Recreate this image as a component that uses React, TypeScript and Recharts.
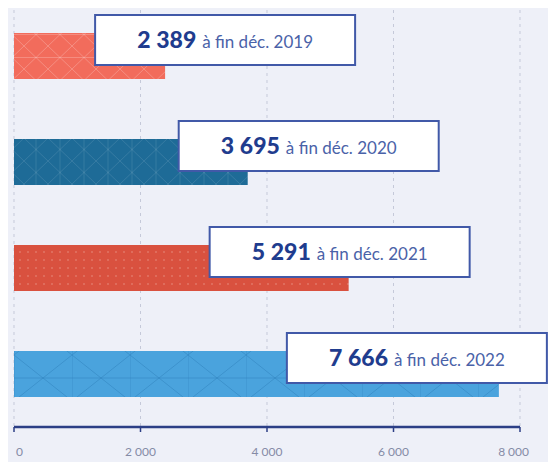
import React from "react";
import {
  BarChart,
  Bar,
  Cell,
  XAxis,
  YAxis,
  CartesianGrid,
  LabelList,
} from "recharts";

// values
const years = ["2019", "2020", "2021", "2022"];
const counts = [2389, 3695, 5291, 7666];
const xTicks = [0, 2000, 4000, 6000, 8000];
const labelSuffix = "à fin déc.";

const COLORS = ["#f26c5c", "#1e6b97", "#d9513f", "#4aa3dd"];
const PATTERNS = ["pat2019", "pat2020", "pat2021", "pat2022"];
// how far the label box starts before the bar end (px)
const BOX_SHIFT = [-70, -69, -139, -212];

const data = years.map((y, i) => ({ year: y, count: counts[i] }));

const fmt = (n: number) => String(n).replace(/\B(?=(\d{3})+(?!\d))/g, "\u202f");

function Patterns() {
  return (
    <svg width={0} height={0} style={{ position: "absolute" }}>
      <defs>
        <pattern id="pat2019" width={24} height={23} patternUnits="userSpaceOnUse">
          <rect width={24} height={23} fill={COLORS[0]} />
          <path d="M0 0 L24 23 M24 0 L0 23 M0 11.5 H24" stroke="#ffffff" strokeOpacity={0.22} strokeWidth={1} />
        </pattern>
        <pattern id="pat2020" width={24} height={23} patternUnits="userSpaceOnUse">
          <rect width={24} height={23} fill={COLORS[1]} />
          <path d="M0 0 L24 23 M24 0 L0 23 M12 0 V23" stroke="#ffffff" strokeOpacity={0.1} strokeWidth={1} />
        </pattern>
        <pattern id="pat2021" width={8} height={8} patternUnits="userSpaceOnUse">
          <rect width={8} height={8} fill={COLORS[2]} />
          <circle cx={4} cy={4} r={1} fill="#ffffff" fillOpacity={0.2} />
        </pattern>
        <pattern id="pat2022" width={58} height={46} x={14} y={355} patternUnits="userSpaceOnUse">
          <rect width={58} height={46} fill={COLORS[3]} />
          <path d="M0 0 L58 46 M58 0 L0 46 M0 0 V46 M0 23 H58" stroke="#2a7cb8" strokeOpacity={0.45} strokeWidth={1} />
        </pattern>
      </defs>
    </svg>
  );
}

function ValueBox(props: any) {
  const { x, y, width, value, index } = props;
  const bw = 260;
  const bh = 50;
  const bx = x + width + BOX_SHIFT[index];
  const by = y - 18;
  return (
    <g>
      <rect x={bx} y={by} width={bw} height={bh} fill="#ffffff" stroke="#4159a8" strokeWidth={2} />
      <text
        x={bx + bw / 2}
        y={by + 33}
        textAnchor="middle"
        fontFamily="Lato, 'Open Sans', sans-serif"
        fill="#1f3c8e"
      >
        <tspan fontSize={23} fontWeight={900}>{fmt(value)}</tspan>
        <tspan fontSize={17} fill="#4a62a8" dx={6}>
          {labelSuffix} {years[index]}
        </tspan>
      </text>
    </g>
  );
}

function XTick(props: any) {
  const { x, y, payload, index } = props;
  let anchor: "start" | "middle" | "end" = "middle";
  let dx = 0;
  if (index === 0) {
    anchor = "start";
    dx = 2;
  }
  if (index === xTicks.length - 1) {
    anchor = "end";
    dx = 9;
  }
  return (
    <text
      x={x + dx}
      y={y + 22}
      textAnchor={anchor}
      fontSize={12}
      fontFamily="Lato, sans-serif"
      fill="#858ba6"
      letterSpacing={0.5}
    >
      {fmt(payload.value)}
    </text>
  );
}

export default function App() {
  return (
    <div style={{ margin: -8, width: 556, height: 470, background: "#eef0f8", position: "relative" }}>
      <Patterns />
      <BarChart
        width={556}
        height={470}
        data={data}
        layout="vertical"
        margin={{ top: 3, right: 36, left: 14, bottom: 13 }}
        barCategoryGap={0}
      >
        <CartesianGrid horizontal={false} stroke="#c5c9d9" strokeDasharray="3 4" />
        <XAxis
          type="number"
          domain={[0, 8000]}
          ticks={xTicks}
          height={30}
          axisLine={{ stroke: "#2c3f86", strokeWidth: 2.5 }}
          tickLine={{ stroke: "#2c3f86", strokeWidth: 1.5 }}
          tickSize={5}
          tick={<XTick />}
        />
        <YAxis
          type="category"
          dataKey="year"
          width={0}
          tick={false}
          tickLine={false}
          axisLine={{ stroke: "#2c3f86", strokeWidth: 2.5 }}
        />
        <Bar dataKey="count" barSize={46} isAnimationActive={false}>
          {data.map((d, i) => (
            <Cell key={d.year} fill={`url(#${PATTERNS[i]})`} />
          ))}
          <LabelList dataKey="count" content={<ValueBox />} />
        </Bar>
      </BarChart>
    </div>
  );
}
